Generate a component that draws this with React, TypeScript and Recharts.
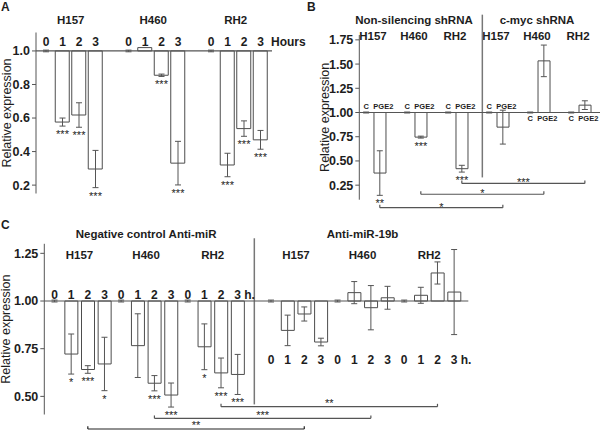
import React from 'react';
import {
  ComposedChart,
  Bar,
  Line,
  XAxis,
  YAxis,
  ErrorBar,
  LabelList,
  ReferenceLine,
  ReferenceArea,
} from 'recharts';

const FONT = '"Liberation Sans", Arial, Helvetica, sans-serif';
const INK = '#1d1d1d';
const GREY = '#555555';
const BASE = 1; // every series is relative to its own control (= 1.0)

// ---------- A: PGE2 time course (hours)
const hoursA = ['0', '1', '2', '3'];
const cellsA = ['H157', 'H460', 'RH2'];
const meanA = [
  [1.0, 0.576, 0.618, 0.296],
  [1.0, 1.02, 0.855, 0.331],
  [1.0, 0.32, 0.537, 0.47],
];
const errA = [
  [0.005, 0.024, 0.073, 0.111],
  [0.005, 0, 0.007, 0.13],
  [0.005, 0.07, 0.046, 0.056],
];
const starsA = [
  ['', '***', '***', '***'],
  ['', '', '***', '***'],
  ['', '***', '***', '***'],
];
const ticksA = [0.2, 0.4, 0.6, 0.8, 1.0];

// ---------- B: shRNA, control vs PGE2
const treatB = ['C', 'PGE2'];
const cellsB = ['H157', 'H460', 'RH2'];
const shrnaB = ['Non-silencing shRNA', 'c-myc shRNA'];
const ctrlB = 1.0;
const ctrlErrB = 0.005;
const pge2NonSil = [0.375, 0.746, 0.42];
const pge2NonSilErr = [0.23, 0.01, 0.035];
const pge2NonSilStars = ['**', '***', '***'];
const pge2Myc = [0.849, 1.533, 1.076];
const pge2MycErr = [0.175, 0.163, 0.045];
const pge2MycStars = ['', '', ''];
const bracketStarsB = ['*', '*', '***'];
const ticksB = [0.25, 0.5, 0.75, 1.0, 1.25, 1.5, 1.75];

// ---------- C: anti-miR, hours
const hoursC = ['0', '1', '2', '3'];
const cellsC = ['H157', 'H460', 'RH2'];
const groupsC = ['Negative control Anti-miR', 'Anti-miR-19b'];
const meanNeg = [
  [1.0, 0.722, 0.641, 0.67],
  [1.0, 0.766, 0.569, 0.507],
  [1.0, 0.76, 0.623, 0.615],
];
const errNeg = [
  [0.005, 0.105, 0.02, 0.14],
  [0.005, 0.167, 0.04, 0.063],
  [0.005, 0.12, 0.078, 0.105],
];
const starsNeg = [
  ['', '*', '***', '*'],
  ['', '', '***', '***'],
  ['', '*', '***', '***'],
];
const meanMiR19b = [
  [1.0, 0.846, 0.932, 0.785],
  [1.0, 1.044, 0.965, 1.017],
  [1.0, 1.03, 1.147, 1.047],
];
const errMiR19b = [
  [0.005, 0.08, 0.037, 0.02],
  [0.005, 0.058, 0.116, 0.06],
  [0.005, 0.042, 0.058, 0.223],
];
const starsMiR19b = [
  ['', '', '', ''],
  ['', '', '', ''],
  ['', '', '', ''],
];
const bracketStarsC = ['**', '***', '**'];
const ticksC = [0.5, 0.75, 1.0, 1.25];

// ---------- table rows (one category per bar slot)
type Row = {
  key: string;
  range?: number[];
  mean?: number;
  err?: number;
  lo?: number;
  base?: number;
  stars?: string;
  tag?: string;
  below?: boolean;
  suffix?: string;
};

const slot = (key: string, tag: string, mean: number, err: number, stars: string, below = false, suffix = ''): Row => ({
  key,
  tag,
  range: [BASE, mean],
  mean,
  err,
  lo: mean - err,
  base: BASE,
  stars,
  below,
  suffix,
});
const gap = (key: string): Row => ({ key });

const rowsA: Row[] = [];
cellsA.forEach((cell, c) => {
  if (c > 0) rowsA.push(gap(`gapA${c}`));
  hoursA.forEach((h, i) => {
    const last = c === cellsA.length - 1 && i === hoursA.length - 1;
    rowsA.push(slot(`A-${cell}-${h}`, h, meanA[c][i], errA[c][i], starsA[c][i], false, last ? 'Hours' : ''));
  });
});

const rowsB: Row[] = [];
shrnaB.forEach((_, s) => {
  const pge = s === 0 ? pge2NonSil : pge2Myc;
  const err = s === 0 ? pge2NonSilErr : pge2MycErr;
  const st = s === 0 ? pge2NonSilStars : pge2MycStars;
  cellsB.forEach((cell, c) => {
    if (rowsB.length) rowsB.push(gap(`gapB${s}${c}`));
    const below = pge[c] > BASE;
    rowsB.push(slot(`B-${s}-${cell}-0`, treatB[0], ctrlB, ctrlErrB, '', below));
    rowsB.push(slot(`B-${s}-${cell}-1`, treatB[1], pge[c], err[c], st[c], below));
  });
});

const rowsC: Row[] = [];
[meanNeg, meanMiR19b].forEach((means, g) => {
  const errs = g === 0 ? errNeg : errMiR19b;
  const stars = g === 0 ? starsNeg : starsMiR19b;
  if (g > 0) rowsC.push(gap('gapC'));
  cellsC.forEach((cell, c) => {
    hoursC.forEach((h, i) => {
      const last = c === cellsC.length - 1 && i === hoursC.length - 1;
      rowsC.push(slot(`C-${g}-${cell}-${h}`, h, means[c][i], errs[c][i], stars[c][i], g === 1, last ? 'h.' : ''));
    });
  });
});

// ---------- label renderers
const pos = (p: any) => {
  const vb = p.viewBox || {};
  return { x: vb.x ?? p.x, y: vb.y ?? p.y, w: vb.width ?? p.width ?? 0 };
};

function tagLabels(
  rows: Row[],
  above: number,
  below: number,
  size: number,
  suffixDx: number,
  dxFor: (tag: string) => number = () => 0
) {
  const m = new Map(rows.map((r) => [r.key, r]));
  return (p: any) => {
    const { x, y } = pos(p);
    const r = m.get(p.value);
    if (!r || !r.tag || !Number.isFinite(x) || !Number.isFinite(y)) return null;
    const ty = r.below ? y + below : y - above;
    const st = { fontSize: size, fontWeight: 700, fill: INK, fontFamily: FONT };
    return (
      <g>
        <text x={x + dxFor(r.tag)} y={ty} textAnchor="middle" {...st}>
          {r.tag}
        </text>
        {r.suffix ? (
          <text x={x + suffixDx} y={ty} textAnchor="start" {...st}>
            {r.suffix}
          </text>
        ) : null}
      </g>
    );
  };
}

function starLabels(rows: Row[], dy: number) {
  const m = new Map(rows.map((r) => [r.key, r]));
  return (p: any) => {
    const { x, y } = pos(p);
    const r = m.get(p.value);
    if (!r || !r.stars || !Number.isFinite(x) || !Number.isFinite(y)) return null;
    return (
      <text x={x} y={y + dy} textAnchor="middle" fontSize={11} fill="#222" fontFamily={FONT}>
        {r.stars}
      </text>
    );
  };
}

const yTitle = (cx: number) => (p: any) => {
  const vb = p.viewBox;
  const cy = vb.y + vb.height / 2;
  return (
    <text
      x={cx}
      y={cy}
      transform={`rotate(-90 ${cx} ${cy})`}
      textAnchor="middle"
      dominantBaseline="central"
      fontSize={12.5}
      fill={INK}
      fontFamily={FONT}
    >
      Relative expression
    </text>
  );
};

// text placed relative to the top edge of a reference area (lift > 0 = above the plot)
const topTitle = (text: string, lift: number, size: number) => (p: any) => {
  const { x, y, w } = pos(p);
  return (
    <text x={x + w / 2} y={y - lift} textAnchor="middle" fontSize={size} fontWeight={700} fill={INK} fontFamily={FONT}>
      {text}
    </text>
  );
};

const bracketText = (text: string, dy: number) => (p: any) => {
  const { x, y, w } = pos(p);
  return (
    <text x={x + w / 2} y={y + dy} textAnchor="middle" fontSize={11} fill="#222" fontFamily={FONT}>
      {text}
    </text>
  );
};

function bracket(id: string, from: string, to: string, y: number, tick: number, text: string, dy: number, color = GREY) {
  return [
    <ReferenceLine
      key={`${id}-h`}
      segment={[{ x: from, y }, { x: to, y }]}
      stroke={color}
      strokeWidth={1.2}
      ifOverflow="visible"
      label={{ content: bracketText(text, dy) }}
    />,
    <ReferenceLine key={`${id}-l`} segment={[{ x: from, y }, { x: from, y: y + tick }]} stroke={color} strokeWidth={1.2} ifOverflow="visible" />,
    <ReferenceLine key={`${id}-r`} segment={[{ x: to, y }, { x: to, y: y + tick }]} stroke={color} strokeWidth={1.2} ifOverflow="visible" />,
  ];
}

const yAxisStyle = {
  tick: { fill: INK, fontSize: 12.5, fontWeight: 700, fontFamily: FONT },
  tickLine: { stroke: GREY },
  axisLine: { stroke: GREY },
  tickSize: 4,
  tickMargin: 2,
  interval: 0 as const,
};

function series(
  rows: Row[],
  barSize: number,
  tagAbove: number,
  tagBelow: number,
  tagSize: number,
  suffixDx: number,
  dxFor?: (tag: string) => number
) {
  return [
    <ReferenceLine key="base" y={BASE} stroke={GREY} strokeWidth={1.2} />,
    <Bar key="bar" dataKey="range" barSize={barSize} fill="#fff" stroke="#4d4d4d" strokeWidth={1} isAnimationActive={false} />,
    <Line key="mean" dataKey="mean" stroke="none" dot={false} activeDot={false} legendType="none" isAnimationActive={false}>
      <ErrorBar dataKey="err" width={3} stroke={GREY} strokeWidth={1} />
    </Line>,
    <Line key="lo" dataKey="lo" stroke="none" dot={false} activeDot={false} legendType="none" isAnimationActive={false}>
      <LabelList dataKey="key" content={starLabels(rows, 12)} />
    </Line>,
    <Line key="tag" dataKey="base" stroke="none" dot={false} activeDot={false} legendType="none" isAnimationActive={false}>
      <LabelList dataKey="key" content={tagLabels(rows, tagAbove, tagBelow, tagSize, suffixDx, dxFor)} />
    </Line>,
  ];
}

function ChartA() {
  return (
    <ComposedChart width={320} height={215} data={rowsA} margin={{ top: 32.5, right: 48, bottom: 21.5, left: 0 }}>
      <XAxis dataKey="key" hide padding={{ left: 1.75, right: 3.25 }} />
      <YAxis
        type="number"
        domain={[0.15, 1.11]}
        ticks={ticksA}
        tickFormatter={(v: number) => v.toFixed(1)}
        width={36}
        {...yAxisStyle}
        label={{ content: yTitle(6.5) }}
      />
      {cellsA.map((cell) => (
        <ReferenceArea
          key={cell}
          x1={`A-${cell}-${hoursA[0]}`}
          x2={`A-${cell}-${hoursA[3]}`}
          fillOpacity={0}
          strokeOpacity={0}
          ifOverflow="visible"
          label={{ content: topTitle(cell, 8.2, 11.5) }}
        />
      ))}
      {series(rowsA, 14, 4.7, 0, 12, 10.5)}
    </ComposedChart>
  );
}

function ChartB() {
  return (
    <ComposedChart width={300} height={215} data={rowsB} margin={{ top: 35, right: 0, bottom: 15.3, left: 0 }}>
      <XAxis dataKey="key" hide padding={{ left: 0, right: 8.3 }} />
      <YAxis
        type="number"
        domain={[0.1, 1.8]}
        ticks={ticksB}
        tickFormatter={(v: number) => v.toFixed(2)}
        width={59.3}
        {...yAxisStyle}
        label={{ content: yTitle(25.5) }}
      />
      {shrnaB.map((sh, s) => (
        <ReferenceArea
          key={sh}
          x1={`B-${s}-${cellsB[0]}-0`}
          x2={`B-${s}-${cellsB[2]}-1`}
          fillOpacity={0}
          strokeOpacity={0}
          ifOverflow="visible"
          label={{ content: topTitle(sh, 10.7, 11.5) }}
        />
      ))}
      {shrnaB.map((sh, s) =>
        cellsB.map((cell) => (
          <ReferenceArea
            key={`${sh}-${cell}`}
            x1={`B-${s}-${cell}-0`}
            x2={`B-${s}-${cell}-1`}
            fillOpacity={0}
            strokeOpacity={0}
            ifOverflow="visible"
            label={{ content: topTitle(cell, -5, 11.5) }}
          />
        ))
      )}
      <ReferenceLine
        segment={[{ x: 'gapB10', y: 2.01 }, { x: 'gapB10', y: 0.33 }]}
        position="end"
        stroke="#777"
        strokeWidth={1.5}
        ifOverflow="visible"
      />
      {cellsB.map((cell, c) =>
        bracket(`bB${c}`, `B-0-${cell}-1`, `B-1-${cell}-1`, [0.018, 0.156, 0.268][c], 0.03, bracketStarsB[c], 3)
      )}
      {series(rowsB, 12, 3.4, 8, 7.5, 0, (t) => (t === treatB[1] ? 3.5 : 0))}
    </ComposedChart>
  );
}

function ChartC() {
  return (
    <ComposedChart width={600} height={215} data={rowsC} margin={{ top: 28.8, right: 131.7, bottom: 15.5, left: 0 }}>
      <XAxis dataKey="key" hide padding={{ left: 1.9, right: 5.85 }} />
      <YAxis
        type="number"
        domain={[0.405, 1.3]}
        ticks={ticksC}
        tickFormatter={(v: number) => v.toFixed(2)}
        width={44.3}
        {...yAxisStyle}
        label={{ content: yTitle(6.5) }}
      />
      {groupsC.map((g, gi) => (
        <ReferenceArea
          key={g}
          x1={`C-${gi}-${cellsC[0]}-${hoursC[0]}`}
          x2={`C-${gi}-${cellsC[2]}-${hoursC[3]}`}
          fillOpacity={0}
          strokeOpacity={0}
          ifOverflow="visible"
          label={{ content: topTitle(g, 6.2, 11.5) }}
        />
      ))}
      {groupsC.map((g, gi) =>
        cellsC.map((cell) => (
          <ReferenceArea
            key={`${g}-${cell}`}
            x1={`C-${gi}-${cell}-${hoursC[0]}`}
            x2={`C-${gi}-${cell}-${hoursC[3]}`}
            fillOpacity={0}
            strokeOpacity={0}
            ifOverflow="visible"
            label={{ content: topTitle(cell, -15.5, 11.5) }}
          />
        ))
      )}
      <ReferenceLine
        segment={[{ x: 'gapC', y: 1.329 }, { x: 'gapC', y: 0.458 }]}
        stroke="#777"
        strokeWidth={1.5}
        ifOverflow="visible"
      />
      {cellsC.map((cell, c) =>
        bracket(
          `bC${c}`,
          `C-0-${cell}-${hoursC[2]}`,
          `C-1-${cell}-${hoursC[2]}`,
          [0.329, 0.385, 0.446][c],
          0.015,
          bracketStarsC[c],
          0.5,
          c === 0 ? '#222' : GREY
        )
      )}
      {series(rowsC, 13, 2, 63.3, 12, 6.5)}
    </ComposedChart>
  );
}

const letter = (t: string, left: number, top: number) => (
  <div
    style={{
      position: 'absolute',
      left,
      top,
      fontFamily: FONT,
      fontWeight: 700,
      fontSize: 12,
      lineHeight: '12px',
      color: INK,
    }}
  >
    {t}
  </div>
);

export default function App() {
  return (
    <div
      style={{
        position: 'absolute',
        left: 0,
        top: 0,
        width: 600,
        height: 430,
        background: '#fff',
        overflow: 'hidden',
      }}
    >
      <div style={{ position: 'absolute', left: 0, top: 0 }}>
        <ChartA />
      </div>
      <div style={{ position: 'absolute', left: 300, top: 0 }}>
        <ChartB />
      </div>
      <div style={{ position: 'absolute', left: 0, top: 215 }}>
        <ChartC />
      </div>
      {letter('A', 1, 1)}
      {letter('B', 307, 1)}
      {letter('C', 1, 219)}
    </div>
  );
}
